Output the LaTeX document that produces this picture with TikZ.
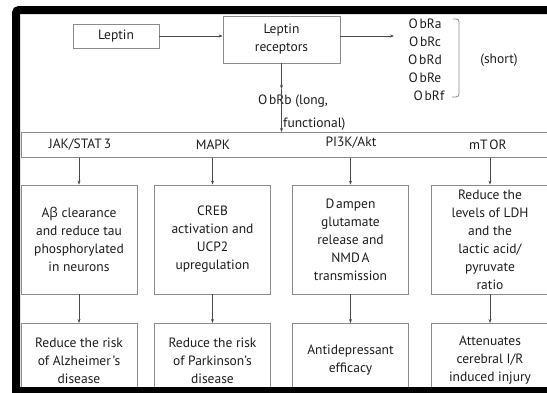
\documentclass[tikz,border=0pt]{standalone}
\usepackage{fontspec}
\setmainfont{PT Sans}
\newfontfamily\grkfont{Open Sans}
\usetikzlibrary{arrows.meta,positioning}
\definecolor{boxgray}{HTML}{8C8C8C}
\definecolor{arrgray}{HTML}{4A4A4A}
\definecolor{txtgray}{HTML}{1E1E1E}
\newcommand{\gp}{\kern1.8pt}

\begin{document}
\begin{tikzpicture}[x=1pt,y=-1pt,>={Stealth[length=4pt,width=3pt]},
    font=\fontsize{13.5}{18}\selectfont,
    box/.style={draw=boxgray,line width=0.8pt,align=center,text=txtgray,inner sep=0pt},
    arr/.style={->,draw=arrgray,line width=0.7pt},
    lbl/.style={text=txtgray,inner sep=0pt,align=center}]
  \useasboundingbox (0,0) rectangle (547,392);
  \clip (0,0) rectangle (547,392);
  \fill[white] (0,0) rectangle (547,392);

  % leptin and its receptors
  \node[box,minimum width=86pt,minimum height=24pt] (leptin) at (116,36) {Leptin};
  \node[box,minimum width=117pt,minimum height=47pt] (rec) at (281.5,39.5) {Leptin\\receptors};
  \draw[arr] (leptin.east) -- (leptin.east -| rec.west);
  \coordinate (shortend) at (394,36);
  \draw[arr] (rec.east |- shortend) -- (shortend);

  % short isoforms
  \node[lbl] (obra) at (425,24) {O\gp bRa};
  \node[lbl] (obrc) at (425,42) {O\gp bRc};
  \node[lbl] (obrd) at (425,60) {O\gp bRd};
  \node[lbl] (obre) at (425,78) {O\gp bRe};
  \node[lbl] (obrf) at (429,96) {O\gp bRf};
  \draw[boxgray,line width=0.8pt] (453,19) .. controls (459,19) .. (459,25)
    -- (459,90) .. controls (459,97) .. (452,97);
  \node[lbl] (short) at (499,60) {(short)};

  % long isoform
  \coordinate (split) at (281.5,89);
  \draw[arr] (rec.south) -- (split);
  \node[lbl] (obrb) at (293,101) {O\gp bRb (long,};
  \node[lbl,anchor=west] (func) at (283,124) {functional)};

  % signalling pathways
  \node[box,minimum width=539pt,minimum height=25pt,anchor=north west] (band) at (21,132) {};
  \draw[arr] (split) -- (split |- band.north);
  \node[lbl] (jak) at (80,145) {JAK/STAT\gp 3};
  \node[lbl] (mapk) at (213,145) {MAPK};
  \node[lbl] (pi3k) at (351,143) {PI3K/Akt};
  \node[lbl] (mtor) at (488,145) {mT\gp OR};

  % effects
  \node[box,minimum width=116pt,minimum height=109pt] (m1) at (79,239.5)
    {A{\grkfont β} clearance\\and reduce tau\\phosphorylated\\in neurons};
  \node[box,minimum width=116pt,minimum height=109pt] (m2) at (212.5,239.5)
    {CREB\\activation and\\UCP2\\upregulation};
  \node[box,minimum width=116pt,minimum height=109pt] (m3) at (350.5,239.5)
    {D\gp ampen\\glutamate\\release and\\NMD\gp A\\transmission};
  \node[box,minimum width=118pt,minimum height=109pt] (m4) at (490,239.5)
    {Reduce the\\levels of LDH\\and the\\lactic acid/\\pyruvate\\ratio};

  % outcomes
  \node[box,minimum width=116pt,minimum height=74pt,anchor=north] (b1) at (79,323)
    {Reduce the risk\\of Alzheimer\gp 's\\disease};
  \node[box,minimum width=116pt,minimum height=74pt,anchor=north] (b2) at (212.5,323)
    {Reduce the risk\\of Parkinson's\\disease};
  \node[box,minimum width=116pt,minimum height=74pt,anchor=north] (b3) at (350.5,323)
    {Antidepressant\\efficacy};
  \node[box,minimum width=118pt,minimum height=74pt,anchor=north] (b4) at (490,323)
    {Attenuates\\cerebral I/R\\induced injury};

  \foreach \i in {1,...,4} {
    \draw[arr] (band.south -| m\i.north) -- (m\i.north);
    \draw[arr] (m\i.south) -- (b\i.north);
  }

  % frame
  \draw[line width=8pt,rounded corners=3pt] (16,420) -- (16,10) -- (600,10);
  \fill (12,387) rectangle (547,395);
\end{tikzpicture}
\end{document}
